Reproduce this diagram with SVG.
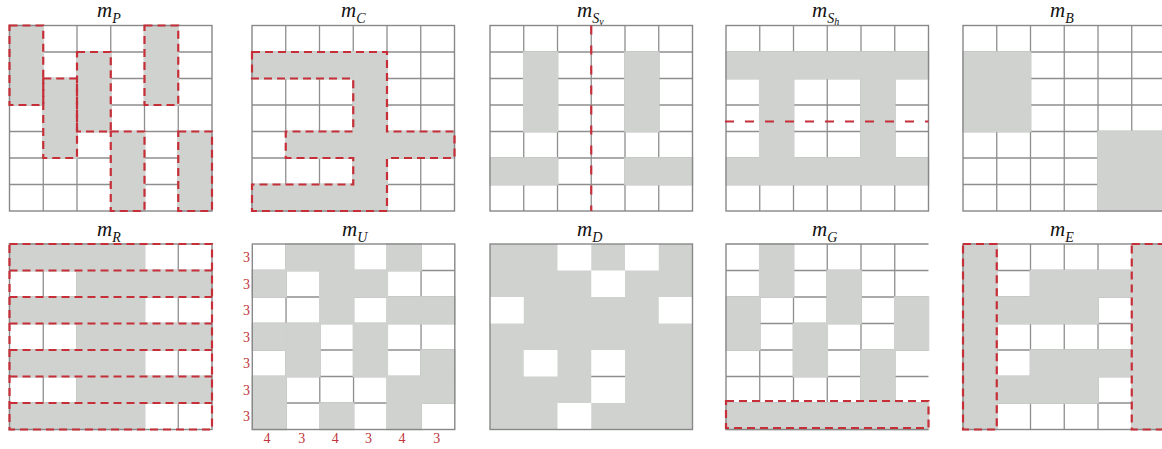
<svg xmlns="http://www.w3.org/2000/svg" xmlns:xlink="http://www.w3.org/1999/xlink" width="1162" height="449" viewBox="0 0 1162 449">
<style>
.gl{fill:none;stroke:#8e8e8e;stroke-width:1.3}
.bd{fill:none;stroke:#888;stroke-width:1.4}
.f{fill:#cfd2cf;stroke:#cfd2cf;stroke-width:1.6}
.w{fill:#fff}
.rd{fill:none;stroke:#c62e38;stroke-width:2.2;stroke-dasharray:8 5}
.rl{fill:none;stroke:#c62e38;stroke-width:2.2;stroke-dasharray:9 11}
.ti{font-family:"Liberation Serif","DejaVu Serif",serif;font-style:italic;font-size:21px;fill:#111}
.s{font-size:14px}
.ss{font-size:10px}
.n{font-family:"Liberation Serif","DejaVu Serif",serif;font-size:14px;fill:#c0353d;text-anchor:middle}
</style>
<defs>
<path id="grid" class="gl" d="M33.75 0V185.5M67.5 0V185.5M101.25 0V185.5M135 0V185.5M168.75 0V185.5M0 26.5H202.5M0 53H202.5M0 79.5H202.5M0 106H202.5M0 132.5H202.5M0 159H202.5"/>
<rect id="c" width="33.75" height="26.5"/>
</defs>
<rect width="1162" height="449" fill="#fff"/>

<g id="mP" transform="translate(9.5,25.5)">
<use xlink:href="#grid"/>
<rect class="f" x="0" y="0" width="33.75" height="79.5"/>
<rect class="f" x="33.75" y="53" width="33.75" height="79.5"/>
<rect class="f" x="67.5" y="26.5" width="33.75" height="79.5"/>
<rect class="f" x="101.25" y="106" width="33.75" height="79.5"/>
<rect class="f" x="135" y="0" width="33.75" height="79.5"/>
<rect class="f" x="168.75" y="106" width="33.75" height="79.5"/>
<rect class="bd" width="202.5" height="185.5"/>
<rect class="rd" x="0" y="0" width="33.75" height="79.5"/>
<rect class="rd" x="33.75" y="53" width="33.75" height="79.5"/>
<rect class="rd" x="67.5" y="26.5" width="33.75" height="79.5"/>
<rect class="rd" x="101.25" y="106" width="33.75" height="79.5"/>
<rect class="rd" x="135" y="0" width="33.75" height="79.5"/>
<rect class="rd" x="168.75" y="106" width="33.75" height="79.5"/>
</g>

<g id="mC" transform="translate(252,25.5)">
<use xlink:href="#grid"/>
<rect class="f" x="0" y="26.5" width="135" height="26.5"/>
<rect class="f" x="101.25" y="26.5" width="33.75" height="159"/>
<rect class="f" x="33.75" y="106" width="168.75" height="26.5"/>
<rect class="f" x="0" y="159" width="135" height="26.5"/>
<rect class="bd" width="202.5" height="185.5"/>
<polygon class="rd" points="0,26.5 135,26.5 135,106 202.5,106 202.5,132.5 135,132.5 135,185.5 0,185.5 0,159 101.25,159 101.25,132.5 33.75,132.5 33.75,106 101.25,106 101.25,53 0,53"/>
</g>

<g id="mSv" transform="translate(490,25.5)">
<use xlink:href="#grid"/>
<rect class="f" x="33.75" y="26.5" width="33.75" height="79.5"/>
<rect class="f" x="135" y="26.5" width="33.75" height="79.5"/>
<rect class="f" x="0" y="132.5" width="67.5" height="26.5"/>
<rect class="f" x="135" y="132.5" width="67.5" height="26.5"/>
<rect class="bd" width="202.5" height="185.5"/>
<path class="rl" d="M101.25 0V185.5"/>
</g>

<g id="mSh" transform="translate(726,25.5)">
<use xlink:href="#grid"/>
<rect class="f" x="0" y="26.5" width="202.5" height="26.5"/>
<rect class="f" x="0" y="132.5" width="202.5" height="26.5"/>
<rect class="f" x="33.75" y="53" width="33.75" height="79.5"/>
<rect class="f" x="135" y="53" width="33.75" height="79.5"/>
<rect class="bd" width="202.5" height="185.5"/>
<path class="rl" d="M-1 96H202.5"/>
</g>

<g id="mB" transform="translate(963,25.5)">
<use xlink:href="#grid"/>
<rect class="f" x="0" y="26.5" width="67.5" height="79.5"/>
<rect class="f" x="135" y="106" width="67.5" height="79.5"/>
<rect class="bd" width="202.5" height="185.5"/>
</g>

<g id="mR" transform="translate(9.5,244)">
<use xlink:href="#grid"/>
<rect class="f" x="0" y="0" width="135" height="26.5"/>
<rect class="f" x="67.5" y="26.5" width="135" height="26.5"/>
<rect class="f" x="0" y="53" width="135" height="26.5"/>
<rect class="f" x="67.5" y="79.5" width="135" height="26.5"/>
<rect class="f" x="0" y="106" width="135" height="26.5"/>
<rect class="f" x="67.5" y="132.5" width="135" height="26.5"/>
<rect class="f" x="0" y="159" width="135" height="26.5"/>
<rect class="bd" width="202.5" height="185.5"/>
<rect class="rd" width="202.5" height="185.5"/>
<path class="rd" d="M0 26.5H202.5M0 53H202.5M0 79.5H202.5M0 106H202.5M0 132.5H202.5M0 159H202.5"/>
</g>

<g id="mU" transform="translate(252.3,244)">
<use xlink:href="#grid"/>
<g class="f">
<use xlink:href="#c" x="33.75" y="0"/><use xlink:href="#c" x="67.5" y="0"/><use xlink:href="#c" x="135" y="0"/>
<use xlink:href="#c" x="0" y="26.5"/><use xlink:href="#c" x="67.5" y="26.5"/><use xlink:href="#c" x="101.25" y="26.5"/>
<use xlink:href="#c" x="67.5" y="53"/><use xlink:href="#c" x="135" y="53"/><use xlink:href="#c" x="168.75" y="53"/>
<use xlink:href="#c" x="0" y="79.5"/><use xlink:href="#c" x="33.75" y="79.5"/><use xlink:href="#c" x="101.25" y="79.5"/>
<use xlink:href="#c" x="33.75" y="106"/><use xlink:href="#c" x="101.25" y="106"/><use xlink:href="#c" x="168.75" y="106"/>
<use xlink:href="#c" x="0" y="132.5"/><use xlink:href="#c" x="135" y="132.5"/><use xlink:href="#c" x="168.75" y="132.5"/>
<use xlink:href="#c" x="0" y="159"/><use xlink:href="#c" x="67.5" y="159"/><use xlink:href="#c" x="135" y="159"/>
</g>
<rect class="bd" width="202.5" height="185.5"/>
</g>
<g id="mU-labels">
<text class="n" x="246.5" y="262.3">3</text>
<text class="n" x="246.5" y="288.8">3</text>
<text class="n" x="246.5" y="315.3">3</text>
<text class="n" x="246.5" y="341.8">3</text>
<text class="n" x="246.5" y="368.3">3</text>
<text class="n" x="246.5" y="394.8">3</text>
<text class="n" x="246.5" y="421.3">3</text>
<text class="n" x="267" y="443">4</text>
<text class="n" x="301.7" y="443">3</text>
<text class="n" x="335.3" y="443">4</text>
<text class="n" x="368.5" y="443">3</text>
<text class="n" x="402" y="443">4</text>
<text class="n" x="436.7" y="443">3</text>
</g>

<g id="mD" transform="translate(490,244)">
<rect fill="#cfd2cf" width="202.5" height="185.5"/>
<g class="w">
<use xlink:href="#c" x="67.5" y="0"/><use xlink:href="#c" x="135" y="0"/>
<use xlink:href="#c" x="101.25" y="26.5"/>
<use xlink:href="#c" x="0" y="53"/><use xlink:href="#c" x="168.75" y="53"/>
<use xlink:href="#c" x="33.75" y="106"/><use xlink:href="#c" x="101.25" y="106"/>
<use xlink:href="#c" x="101.25" y="132.5"/>
<use xlink:href="#c" x="67.5" y="159"/>
</g>
<path class="gl" d="M101.25 132.5H135"/>
<rect class="bd" width="202.5" height="185.5"/>
</g>

<g id="mG" transform="translate(726,244)">
<use xlink:href="#grid"/>
<rect class="f" x="33.75" y="0" width="33.75" height="53"/>
<rect class="f" x="101.25" y="26.5" width="33.75" height="53"/>
<rect class="f" x="0" y="53" width="33.75" height="53"/>
<rect class="f" x="168.75" y="53" width="33.75" height="53"/>
<rect class="f" x="67.5" y="79.5" width="33.75" height="53"/>
<rect class="f" x="135" y="106" width="33.75" height="53"/>
<rect class="f" x="0" y="159" width="202.5" height="26.5"/>
<path class="bd" d="M202.5 0H0V185.5H202.5"/>
<rect class="rd" x="0" y="157" width="202.5" height="27"/>
</g>

<g id="mE" transform="translate(963,244)">
<use xlink:href="#grid"/>
<rect class="f" x="0" y="0" width="33.75" height="185.5"/>
<rect class="f" x="168.75" y="0" width="33.75" height="185.5"/>
<rect class="f" x="67.5" y="26.5" width="101.25" height="26.5"/>
<rect class="f" x="33.75" y="53" width="101.25" height="26.5"/>
<rect class="f" x="67.5" y="106" width="101.25" height="26.5"/>
<rect class="f" x="33.75" y="132.5" width="101.25" height="26.5"/>
<rect class="bd" width="202.5" height="185.5"/>
<rect class="rd" x="0" y="0" width="33.75" height="185.5"/>
<rect class="rd" x="168.75" y="0" width="33.75" height="185.5"/>
</g>

<g id="titles">
<text class="ti" x="97" y="17">m<tspan class="s" dy="6">P</tspan></text>
<text class="ti" x="341" y="17">m<tspan class="s" dy="6">C</tspan></text>
<text class="ti" x="577" y="17">m<tspan class="s" dy="6">S</tspan><tspan class="ss" dy="2">v</tspan></text>
<text class="ti" x="812" y="17">m<tspan class="s" dy="6">S</tspan><tspan class="ss" dy="2">h</tspan></text>
<text class="ti" x="1050" y="17">m<tspan class="s" dy="6">B</tspan></text>
<text class="ti" x="97" y="236">m<tspan class="s" dy="6">R</tspan></text>
<text class="ti" x="342" y="236">m<tspan class="s" dy="6">U</tspan></text>
<text class="ti" x="577" y="236">m<tspan class="s" dy="6">D</tspan></text>
<text class="ti" x="812" y="236">m<tspan class="s" dy="6">G</tspan></text>
<text class="ti" x="1050" y="236">m<tspan class="s" dy="6">E</tspan></text>
</g>
</svg>
